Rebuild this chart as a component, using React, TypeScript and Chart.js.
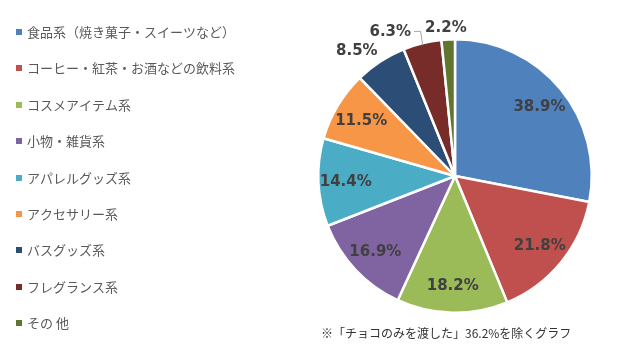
import React, { useEffect, useRef } from "react";
import { Chart, registerables } from "chart.js";

Chart.register(...registerables);

const categories = [
  "食品系（焼き菓子・スイーツなど）",
  "コーヒー・紅茶・お酒などの飲料系",
  "コスメアイテム系",
  "小物・雑貨系",
  "アパレルグッズ系",
  "アクセサリー系",
  "バスグッズ系",
  "フレグランス系",
  "その 他",
];
const values = [38.9, 21.8, 18.2, 16.9, 14.4, 11.5, 8.5, 6.3, 2.2];
const colors = [
  "#4F81BD",
  "#C0504D",
  "#9BBB59",
  "#8064A2",
  "#4BACC6",
  "#F79646",
  "#2C4D75",
  "#772C2A",
  "#5F7530",
];
const note = "※「チョコのみを渡した」36.2%を除くグラフ";

const JP = '"Noto Sans CJK JP", "Noto Sans", sans-serif';
const NUM = '"DejaVu Sans", Verdana, sans-serif';

const overlayPlugin = {
  id: "overlay",
  afterDraw(chart: any) {
    const ctx = chart.ctx as CanvasRenderingContext2D;
    const labels = chart.data.labels as string[];
    const ds = chart.data.datasets[0];
    ctx.save();
    // Legend
    ctx.font = `13px ${JP}`;
    ctx.textBaseline = "middle";
    ctx.textAlign = "left";
    labels.forEach((lab, i) => {
      const y = 32 + i * 36.4;
      ctx.fillStyle = ds.backgroundColor[i];
      ctx.fillRect(16, Math.round(y - 3), 6, 6);
      ctx.fillStyle = "#595959";
      ctx.fillText(lab, 27, y);
    });
    // Note
    ctx.font = `12px ${JP}`;
    ctx.fillStyle = "#333333";
    ctx.fillText(note, 321, 333);

    // Data labels
    const meta = chart.getDatasetMeta(0);
    ctx.font = `bold 15px ${NUM}`;
    ctx.textAlign = "center";
    ctx.fillStyle = "#404040";
    const boxes: any[] = [];
    meta.data.forEach((arc: any, i: number) => {
      const p = arc.getProps(["x", "y", "startAngle", "endAngle", "outerRadius"], true);
      const mid = (p.startAngle + p.endAngle) / 2;
      const v = ds.data[i] as number;
      const text = v.toFixed(1) + "%";
      const w = ctx.measureText(text).width;
      const h = 14;
      const cos = Math.cos(mid);
      const sin = Math.sin(mid);
      if (v >= 10) {
        const r = p.outerRadius * 0.8;
        boxes.push({ text, x: p.x + cos * r, y: p.y + sin * r, w, inside: true });
      } else {
        const r = p.outerRadius + 5;
        const ex = p.x + cos * r;
        const ey = p.y + sin * r;
        const kx = Math.max(-1, Math.min(1, 2 * cos));
        const ky = Math.max(-1, Math.min(1, 2 * sin));
        boxes.push({
          text,
          x: ex + (kx * w) / 2,
          y: ey + (ky * h) / 2,
          w,
          h,
          inside: false,
          ax: p.x + cos * (p.outerRadius - 2),
          ay: p.y + sin * (p.outerRadius - 2),
          ox: ex + (kx * w) / 2,
        });
      }
    });
    // resolve overlaps among outside labels (from last to first, shift left)
    const outs = boxes.filter((b) => !b.inside);
    for (let i = outs.length - 2; i >= 0; i--) {
      const a = outs[i];
      const b = outs[i + 1];
      const vOverlap = Math.abs(a.y - b.y) < 14;
      const right = a.x + a.w / 2;
      const lim = b.x - b.w / 2 - 14;
      if (vOverlap && right > lim) a.x -= right - lim;
    }
    boxes.forEach((b) => {
      ctx.fillStyle = "#404040";
      ctx.fillText(b.text, b.x, b.y + 1);
      if (!b.inside && Math.abs(b.x - b.ox) > 6) {
        ctx.strokeStyle = "#A6A6A6";
        ctx.lineWidth = 1;
        ctx.beginPath();
        ctx.moveTo(b.x + b.w / 2 + 3, b.y);
        ctx.lineTo(b.ax - 2, b.y);
        ctx.lineTo(b.ax, b.ay);
        ctx.stroke();
      }
    });
    ctx.restore();
  },
};

export default function App() {
  const ref = useRef<HTMLCanvasElement | null>(null);
  useEffect(() => {
    document.body.style.margin = "0";
    const canvas = ref.current!;
    const chart = new Chart(canvas, {
      type: "pie",
      data: {
        labels: categories,
        datasets: [
          {
            data: values,
            backgroundColor: colors,
            borderColor: "#FFFFFF",
            borderWidth: 2.5,
          },
        ],
      },
      options: {
        responsive: false,
        animation: false,
        events: [],
        layout: { padding: { left: 317, right: 44, top: 38, bottom: 41 } },
        plugins: {
          legend: { display: false },
          tooltip: { enabled: false },
        },
      },
      plugins: [overlayPlugin],
    });
    return () => chart.destroy();
  }, []);
  return (
    <div style={{ position: "absolute", left: 0, top: 0, width: 637, height: 355, background: "#fff" }}>
      <canvas ref={ref} width={637} height={355} style={{ display: "block" }} />
    </div>
  );
}
